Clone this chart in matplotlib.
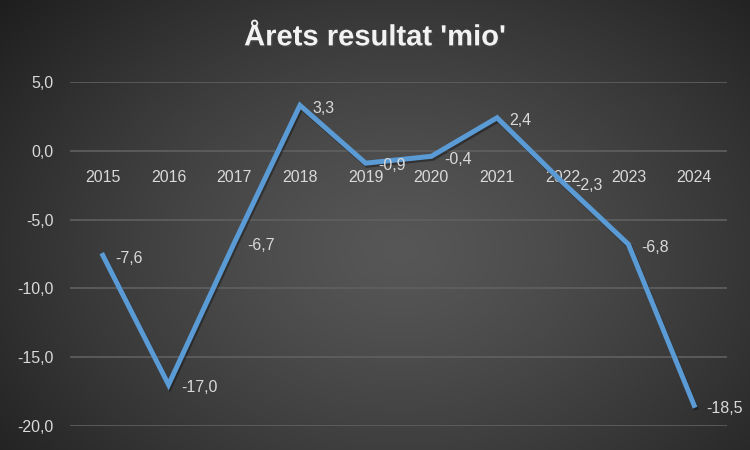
import numpy as np
import matplotlib
matplotlib.use("Agg")
import matplotlib.pyplot as plt
import matplotlib.patheffects as pe

years = ["2015", "2016", "2017", "2018", "2019", "2020", "2021", "2022", "2023", "2024"]
result = [-7.6, -17.0, -6.7, 3.3, -0.9, -0.4, 2.4, -2.3, -6.8, -18.5]
yticks = [5, 0, -5, -10, -15, -20]

TXT = "#d9d9d9"
LINE = "#5b9bd5"
FS = 11.5
plt.rcParams["font.family"] = ["Liberation Sans", "DejaVu Sans"]

fig = plt.figure(figsize=(7.5, 4.5), dpi=100)

# radial gradient background
bg = fig.add_axes([0, 0, 1, 1])
yy, xx = np.mgrid[0:450, 0:750]
r = np.sqrt(((xx - 400) / 520.0) ** 2 + ((yy - 250) / 380.0) ** 2)
r = np.clip(r, 0, 1)
shade = 0.34 - 0.22 * r ** 1.3
bg.imshow(np.dstack([shade] * 3), extent=[0, 1, 0, 1], aspect="auto")
bg.axis("off")

ax = fig.add_axes([70 / 750, 24 / 450, 657 / 750, 344 / 450])
ax.patch.set_alpha(0)
x = np.arange(len(years))
ax.set_xlim(-0.5, len(years) - 0.5)
ax.set_ylim(-20, 5)

for v in yticks:
    ax.axhline(v, color="#606060", lw=1.2, zorder=1)

ax.plot(x, result, color=LINE, lw=3.6, solid_joinstyle="miter", zorder=3,
        path_effects=[pe.SimpleLineShadow(offset=(1, -1.5), alpha=0.35), pe.Normal()])

for xi, v in zip(x, result):
    ax.annotate(f"{v:.1f}".replace(".", ","), (xi, v), xytext=(9, -2),
                textcoords="offset points", ha="left", va="center",
                color=TXT, fontsize=FS, zorder=4)

for xi, lab in zip(x, years):
    ax.annotate(lab, (xi, 0), xytext=(0, -19), textcoords="offset points",
                ha="center", va="center", color=TXT, fontsize=FS, zorder=2)

ax.set_yticks(yticks)
ax.set_yticklabels([f"{v:.1f}".replace(".", ",") for v in yticks],
                   color=TXT, fontsize=FS)
ax.tick_params(axis="y", length=0, pad=12)
ax.set_xticks([])
for s in ax.spines.values():
    s.set_visible(False)

fig.text(0.5, 0.917, "Årets resultat 'mio'", ha="center", va="center",
         color="#f2f2f2", fontsize=21, fontweight="bold",
         path_effects=[pe.withSimplePatchShadow(offset=(1.2, -1.2), alpha=0.6)])

fig.savefig("out.png", dpi=100)
